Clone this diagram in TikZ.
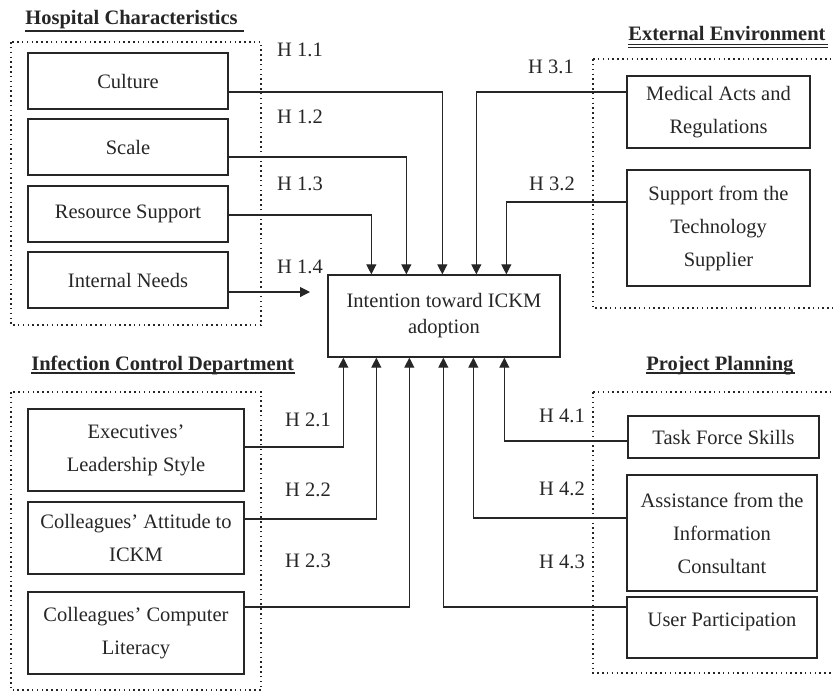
\documentclass[tikz,border=0pt]{standalone}
\usepackage{fontspec}
\setmainfont{Liberation Serif}
\usetikzlibrary{calc,arrows.meta}
\definecolor{ink}{gray}{0.15}
\tikzset{
  box/.style={draw=ink, line width=0.8pt, text=ink, inner sep=0pt, align=center,
    font=\fontsize{12.3}{19.8}\selectfont},
  mainbox/.style={box, font=\fontsize{12.3}{15.6}\selectfont},
  hlab/.style={text=ink, inner sep=0pt, font=\fontsize{12.3}{14}\selectfont},
  ttl/.style={text=ink, inner sep=0pt, anchor=base west, font=\fontsize{12.3}{14}\selectfont\bfseries},
  grp/.style={draw=ink, line width=0.9pt, dotted},
  conn/.style={draw=ink, line width=0.65pt, -{Triangle[length=6pt,width=6pt]}},
  uline/.style={draw=ink, line width=1pt}
}
\begin{document}
\begin{tikzpicture}[x=0.6pt,y=-0.6pt]
\useasboundingbox (0,0) rectangle (833,691);

% group frames
\draw[grp] (11,42) rectangle (261,325);
\draw[grp] (593,59) -- (840,59) (593,59) -- (593,308) -- (840,308);
\draw[grp] (11,392) rectangle (261,690);
\draw[grp] (593,392) -- (840,392) (593,392) -- (593,673) -- (840,673);

% titles
\node[ttl] (t1) at (25,24) {Hospital Characteristics};
\draw[uline, line width=1.1pt] ($(t1.base west)+(0,7)$) -- ($(t1.base east)+(6,7)$);
\node[ttl] (t3) at (628,40) {External Environment};
\draw[uline, line width=0.8pt] ($(t3.base west)+(0,4.5)$) -- ($(t3.base east)+(2,4.5)$);
\draw[uline, line width=0.8pt] ($(t3.base west)+(0,7.5)$) -- ($(t3.base east)+(2,7.5)$);
\node[ttl] (t2) at (31,370) {Infection Control Department};
\draw[uline] ($(t2.base west)+(0,3)$) -- ($(t2.base east)+(1,3)$);
\node[ttl] (t4) at (646,370) {Project Planning};
\draw[uline] ($(t4.base west)+(0,3)$) -- ($(t4.base east)+(1,3)$);

% main
\node[mainbox, minimum width=232*0.6pt, minimum height=82*0.6pt] (main) at (444,316)
  {Intention toward ICKM\\adoption};

% hospital characteristics
\node[box, minimum width=200*0.6pt, minimum height=56*0.6pt] (culture) at (128,81) {Culture};
\node[box, minimum width=200*0.6pt, minimum height=56*0.6pt] (scale) at (128,147) {Scale};
\node[box, minimum width=200*0.6pt, minimum height=56*0.6pt] (resource) at (128,214) {Resource Support};
\node[box, minimum width=200*0.6pt, minimum height=56*0.6pt] (internal) at (128,280) {Internal Needs};

% external environment
\node[box, minimum width=183*0.6pt, minimum height=72*0.6pt] (medical) at (718.5,112) {Medical Acts and\\Regulations};
\node[box, minimum width=183*0.6pt, minimum height=116*0.6pt] (support) at (718.5,228) {Support from the\\Technology\\Supplier};

% infection control department
\node[box, minimum width=216*0.6pt, minimum height=82*0.6pt] (exec) at (136,450) {Executives'\\Leadership Style};
\node[box, minimum width=216*0.6pt, minimum height=72*0.6pt] (attitude) at (136,538) {Colleagues' Attitude to\\ICKM};
\node[box, minimum width=216*0.6pt, minimum height=82*0.6pt] (computer) at (136,633) {Colleagues' Computer\\Literacy};

% project planning
\node[box, minimum width=191*0.6pt, minimum height=42*0.6pt] (task) at (723.5,437) {Task Force Skills};
\node[box, minimum width=190*0.6pt, minimum height=116*0.6pt] (assist) at (722,533) {Assistance from the\\Information\\Consultant};
\node[box, minimum width=190*0.6pt, minimum height=61*0.6pt] (user) at (722,627.5) {};
\node[text=ink, inner sep=0pt, font=\fontsize{12.3}{14}\selectfont] (usertxt) at (722,622) {User Participation};

% hypothesis labels
\node[hlab] (h11) at (300,50) {H 1.1};
\node[hlab] (h12) at (300,117) {H 1.2};
\node[hlab] (h13) at (300,184) {H 1.3};
\node[hlab] (h14) at (300,267) {H 1.4};
\node[hlab] (h31) at (551,67) {H 3.1};
\node[hlab] (h32) at (552,183.5) {H 3.2};
\node[hlab] (h21) at (308,419.5) {H 2.1};
\node[hlab] (h22) at (308,490) {H 2.2};
\node[hlab] (h23) at (308,561) {H 2.3};
\node[hlab] (h41) at (562,416) {H 4.1};
\node[hlab] (h42) at (562,488.5) {H 4.2};
\node[hlab] (h43) at (562,561.5) {H 4.3};

% connectors
\coordinate (inend) at (310,292);
\draw[conn] ($(culture.east)+(0,11)$) -| ($(main.north west)+(115,0)$);
\draw[conn] ($(scale.east)+(0,10)$) -| ($(main.north west)+(79,0)$);
\draw[conn] ($(resource.east)+(0,1)$) -| ($(main.north west)+(44,0)$);
\draw[conn] ($(internal.east)+(0,12)$) -- (inend);
\draw[conn] ($(medical.west)+(0,-20)$) -| ($(main.north west)+(149,0)$);
\draw[conn] ($(support.west)+(0,-26)$) -| ($(main.north west)+(179,0)$);
\draw[conn] ($(exec.east)+(0,-3)$) -| ($(main.south west)+(16,0)$);
\draw[conn] ($(attitude.east)+(0,-19)$) -| ($(main.south west)+(49,0)$);
\draw[conn] ($(computer.east)+(0,-26)$) -| ($(main.south west)+(82,0)$);
\draw[conn] ($(task.west)+(0,4)$) -| ($(main.south west)+(177,0)$);
\draw[conn] ($(assist.west)+(0,-15)$) -| ($(main.south west)+(146,0)$);
\draw[conn] ($(user.west)+(0,-20.5)$) -| ($(main.south west)+(116,0)$);
\end{tikzpicture}
\end{document}
